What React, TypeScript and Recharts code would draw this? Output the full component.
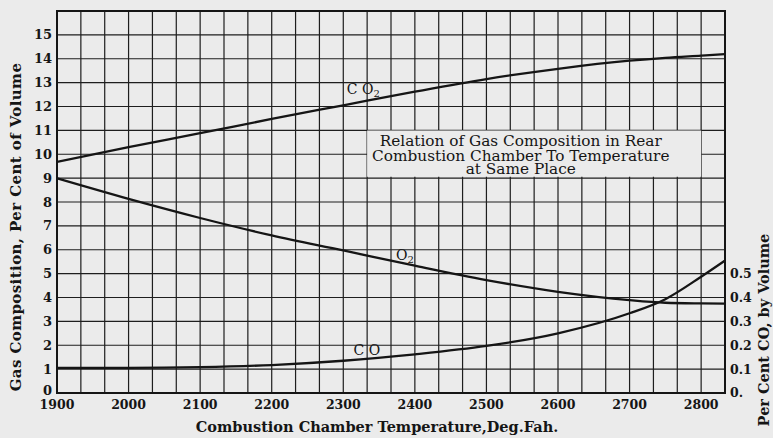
import React from 'react';
import { LineChart, Line, XAxis, YAxis, CartesianGrid, ReferenceArea, ReferenceDot, Label } from 'recharts';

// ---- data ----
const temperatures = [1900, 2000, 2100, 2200, 2300, 2400, 2500, 2600, 2700, 2750, 2800, 2833];
const co2Values = [9.68, 10.3, 10.88, 11.48, 12.05, 12.62, 13.15, 13.58, 13.92, 14.04, 14.13, 14.19];
const o2Values = [8.99, 8.13, 7.33, 6.6, 5.97, 5.33, 4.73, 4.24, 3.89, 3.78, 3.75, 3.74];
const coValues = [0.105, 0.105, 0.108, 0.117, 0.135, 0.162, 0.197, 0.25, 0.334, 0.393, 0.487, 0.554];

const xTickLabels = [1900, 2000, 2100, 2200, 2300, 2400, 2500, 2600, 2700, 2800];
const leftTickLabels = [0, 1, 2, 3, 4, 5, 6, 7, 8, 9, 10, 11, 12, 13, 14, 15];
const rightTickLabels = [0, 0.1, 0.2, 0.3, 0.4, 0.5];

const xMin = 1900;
const xGridStep = 100 / 3;
const xGridCount = 28;
const xMax = xMin + xGridStep * xGridCount;
const yMax = 16;
const rightMax = 1.6;

const boxRange = { x1: 1900 + xGridStep * 13, x2: 2800, y1: 9.06, y2: 11 };
const boxLines = ['Relation of Gas Composition in Rear', 'Combustion Chamber To Temperature', 'at Same Place'];

const co2LabelPos = { x: 2328, y: 12.75 };
const o2LabelPos = { x: 2386, y: 5.8 };
const coLabelPos = { x: 2333, y: 1.8 };

const data = temperatures.map((t, i) => ({ t, co2: co2Values[i], o2: o2Values[i], co: coValues[i] }));
const xGridTicks = Array.from({ length: xGridCount + 1 }, (_, i) => xMin + i * xGridStep);
const leftGridTicks = [...leftTickLabels, yMax];

const FONT = '"DejaVu Serif", "Liberation Serif", serif';
const INK = '#151515';
const BG = '#ebebeb';

const xFmt = (v: number) => {
  const r = Math.round(v);
  return Math.abs(v - r) < 0.01 && xTickLabels.includes(r) ? String(r) : '';
};

const LeftTick = (p: any) => {
  const v = p.payload.value;
  if (v === yMax) return null;
  return (
    <text x={p.x} y={p.y} dy={v === 0 ? -3 : 0} textAnchor="end" dominantBaseline="central"
      fontFamily={FONT} fontWeight="bold" fontSize={13} fill={INK}>
      {String(v)}
    </text>
  );
};

const leftTitle = (p: any) => {
  const vb = p.viewBox;
  const cx = vb.x + 16;
  const cy = vb.y + 216;
  return (
    <text x={cx} y={cy} transform={`rotate(-90, ${cx}, ${cy})`} textAnchor="middle" dominantBaseline="central"
      fontFamily={FONT} fontWeight="bold" fontSize={15} letterSpacing={0.4} fill={INK}>
      Gas Composition, Per Cent of Volume
    </text>
  );
};

const rightTitle = (p: any) => {
  const vb = p.viewBox;
  const cx = vb.x + 38;
  const cy = vb.y + 319;
  return (
    <text x={cx} y={cy} transform={`rotate(-90, ${cx}, ${cy})`} textAnchor="middle" dominantBaseline="central"
      fontFamily={FONT} fontWeight="bold" fontSize={14.5} fill={INK}>
      Per Cent CO, by Volume
    </text>
  );
};

const bottomTitle = (p: any) => {
  const vb = p.viewBox;
  return (
    <text x={vb.x + 320} y={vb.y + 39} textAnchor="middle" fontFamily={FONT} fontWeight="bold" fontSize={14.5} fill={INK}>
      Combustion Chamber Temperature,Deg.Fah.
    </text>
  );
};

const boxLabel = (p: any) => {
  const vb = p.viewBox;
  const cx = vb.x + vb.width * 0.46;
  const offsets = [16, 30.3, 43.6];
  return (
    <g>
      {boxLines.map((line, i) => (
        <text key={i} x={cx} y={vb.y + offsets[i]} textAnchor="middle" fontFamily={FONT} fontSize={15.3} fill={INK}>
          {line}
        </text>
      ))}
    </g>
  );
};

const seriesLabel = (main: string, sub: string) => (p: any) => {
  const vb = p.viewBox;
  return (
    <text x={vb.x} y={vb.y} textAnchor="middle" dominantBaseline="central" fontFamily={FONT} fontSize={14} fill={INK}>
      <tspan>{main}</tspan>
      {sub ? <tspan dy={4} fontSize={10}>{sub}</tspan> : null}
    </text>
  );
};

export default function App() {
  return (
    <div style={{ position: 'absolute', left: 0, top: 0, width: 773, height: 438, background: BG }}>
      <LineChart width={773} height={438} data={data} margin={{ top: 11, right: 0, bottom: 0, left: 0 }}>
        <CartesianGrid yAxisId="left" stroke="#1e1e1e" strokeWidth={1.2} />
        <XAxis dataKey="t" type="number" domain={[xMin, xMax]} ticks={xGridTicks} interval={0} tickFormatter={xFmt}
          axisLine={false} tickLine={false} height={45} tickSize={5} tickMargin={2}
          tick={{ fontSize: 12.5, fontWeight: 'bold', fill: INK, fontFamily: FONT }} allowDataOverflow>
          <Label content={bottomTitle} />
        </XAxis>
        <YAxis yAxisId="left" domain={[0, yMax]} ticks={leftGridTicks} interval={0}
          width={57} axisLine={false} tickLine={false} tickSize={3} tickMargin={2} tick={<LeftTick />}>
          <Label content={leftTitle} />
        </YAxis>
        <YAxis yAxisId="right" orientation="right" domain={[0, rightMax]} ticks={rightTickLabels} interval={0}
          tickFormatter={(v: number) => (v === 0 ? '0.' : v.toFixed(1))} width={48} axisLine={false} tickLine={false}
          tickSize={3} tickMargin={2} tick={{ fontSize: 12.5, fontWeight: 'bold', fill: INK, fontFamily: FONT }}>
          <Label content={rightTitle} />
        </YAxis>
        <ReferenceArea yAxisId="left" x1={boxRange.x1} x2={boxRange.x2} y1={boxRange.y1} y2={boxRange.y2}
          fill={BG} fillOpacity={1} stroke="none">
          <Label content={boxLabel} />
        </ReferenceArea>
        <ReferenceArea yAxisId="left" x1={xMin} x2={xMax} y1={0} y2={yMax} fill="none" stroke={INK} strokeWidth={2} />
        <Line yAxisId="left" type="monotone" dataKey="co2" stroke={INK} strokeWidth={2.3} dot={false} isAnimationActive={false} />
        <Line yAxisId="left" type="monotone" dataKey="o2" stroke={INK} strokeWidth={2.3} dot={false} isAnimationActive={false} />
        <Line yAxisId="right" type="monotone" dataKey="co" stroke={INK} strokeWidth={2.3} dot={false} isAnimationActive={false} />
        <ReferenceDot yAxisId="left" x={co2LabelPos.x} y={co2LabelPos.y} r={0} fill="none" stroke="none">
          <Label content={seriesLabel('C O', '2')} />
        </ReferenceDot>
        <ReferenceDot yAxisId="left" x={o2LabelPos.x} y={o2LabelPos.y} r={0} fill="none" stroke="none">
          <Label content={seriesLabel('O', '2')} />
        </ReferenceDot>
        <ReferenceDot yAxisId="left" x={coLabelPos.x} y={coLabelPos.y} r={0} fill="none" stroke="none">
          <Label content={seriesLabel('C O', '')} />
        </ReferenceDot>
      </LineChart>
    </div>
  );
}
